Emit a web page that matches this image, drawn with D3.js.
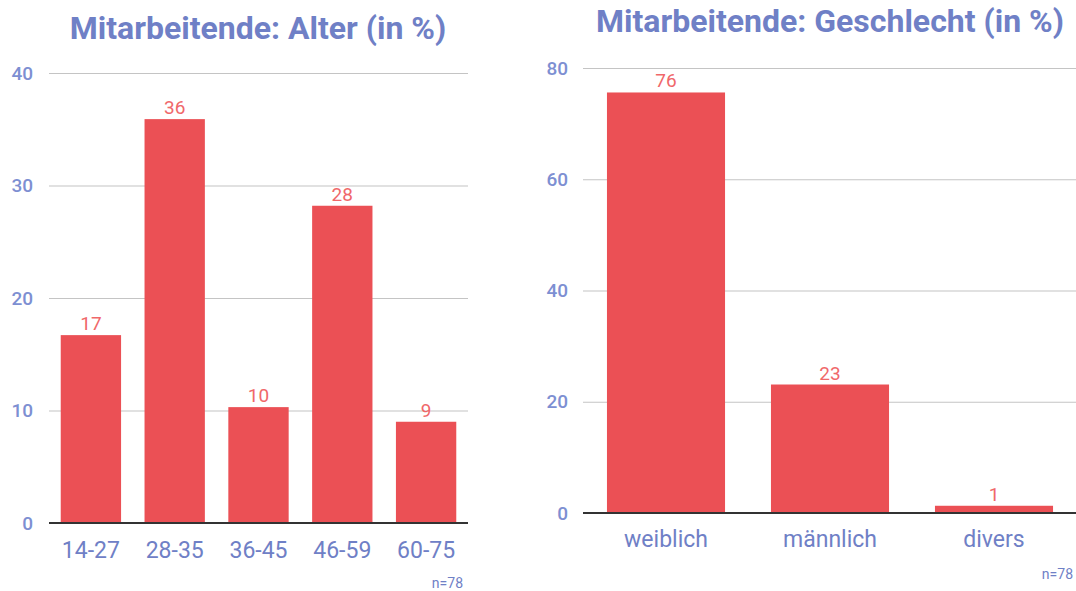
<!DOCTYPE html>
<html>
<head>
<meta charset="utf-8">
<script src="https://cdn.jsdelivr.net/npm/d3@7"></script>
<style>
  body { margin: 0; background: #fff; }
  svg { display: block; font-family: Roboto, 'Noto Sans', sans-serif; }
</style>
</head>
<body>
<svg id="chart" width="1076" height="591"></svg>
<script>
// Alter
let age_cats = ['14-27', '28-35', '36-45', '46-59', '60-75'];
let age_vals = [16.7, 35.9, 10.3, 28.2, 9.0];
let age_ticks = [0, 10, 20, 30, 40];

// Geschlecht
let gender_cats = ['weiblich', 'männlich', 'divers'];
let gender_vals = [75.6, 23.1, 1.3];
let gender_ticks = [0, 20, 40, 60, 80];

const barColor = '#eb5055';
const labelColor = '#f0686a';
const textBlue = '#6f80c6';
const tickBlue = '#7d8fd2';

let svg = d3.select('#chart');

function draw_bars(opts) {
    let g = svg.append('g');

    let x = d3.scaleBand()
        .domain(opts.cats)
        .range(opts.xRange)
        .paddingInner(0.28)
        .paddingOuter(0.14);

    let y = d3.scaleLinear()
        .domain([0, opts.ticks[opts.ticks.length - 1]])
        .range(opts.yRange);

    // title
    g.append('text')
        .attr('x', opts.titleX)
        .attr('y', opts.titleY)
        .attr('text-anchor', 'middle')
        .attr('font-size', '32px')
        .attr('font-weight', 'bold')
        .attr('fill', textBlue)
        .text(opts.title);

    // grid lines
    g.append('g')
        .selectAll('line')
        .data(opts.ticks.filter(d => d !== 0))
        .enter().append('line')
        .attr('x1', opts.gridRange[0])
        .attr('x2', opts.gridRange[1])
        .attr('y1', d => y(d) + 0.5)
        .attr('y2', d => y(d) + 0.5)
        .attr('stroke', '#c4c4c4')
        .attr('stroke-width', 1.2);

    // y tick labels
    g.append('g')
        .selectAll('text')
        .data(opts.ticks)
        .enter().append('text')
        .attr('x', opts.tickX)
        .attr('y', d => y(d))
        .attr('dy', '0.35em')
        .attr('text-anchor', 'end')
        .attr('font-size', '19px')
        .attr('font-weight', 500)
        .attr('fill', tickBlue)
        .text(d => d);

    // bars
    g.append('g')
        .selectAll('rect')
        .data(opts.vals)
        .enter().append('rect')
        .attr('x', (d, i) => x(opts.cats[i]))
        .attr('y', d => y(d))
        .attr('width', x.bandwidth())
        .attr('height', d => y(0) - y(d))
        .attr('fill', barColor);

    // value labels
    g.append('g')
        .selectAll('text')
        .data(opts.vals)
        .enter().append('text')
        .attr('x', (d, i) => x(opts.cats[i]) + x.bandwidth() / 2)
        .attr('y', d => y(d) - 5)
        .attr('text-anchor', 'middle')
        .attr('font-size', '19px')
        .attr('fill', labelColor)
        .text(d => Math.round(d));

    // baseline
    g.append('line')
        .attr('x1', opts.gridRange[0])
        .attr('x2', opts.gridRange[1])
        .attr('y1', y(0))
        .attr('y2', y(0))
        .attr('stroke', '#333')
        .attr('stroke-width', 2);

    // category labels
    let axis_x = d3.axisBottom(x).tickSize(0).tickPadding(0);
    let ax = g.append('g')
        .attr('transform', `translate(0, ${y(0)})`)
        .call(axis_x);
    ax.select('.domain').remove();
    ax.selectAll('text')
        .attr('y', opts.catDy)
        .attr('dy', '0.35em')
        .attr('font-family', 'Roboto, sans-serif')
        .attr('font-size', '23px')
        .attr('fill', textBlue);

    // n
    g.append('text')
        .attr('x', opts.nX)
        .attr('y', opts.nY)
        .attr('text-anchor', 'end')
        .attr('font-size', '14px')
        .attr('fill', textBlue)
        .text('n=78');
}

draw_bars({
    cats: age_cats, vals: age_vals, ticks: age_ticks,
    xRange: [49, 468], yRange: [523, 73], gridRange: [49, 468],
    title: 'Mitarbeitende: Alter (in %)', titleX: 258, titleY: 39,
    tickX: 33, catDy: 27, nX: 463, nY: 588
});

draw_bars({
    cats: gender_cats, vals: gender_vals, ticks: gender_ticks,
    xRange: [584, 1076], yRange: [513, 68], gridRange: [583, 1076],
    title: 'Mitarbeitende: Geschlecht (in %)', titleX: 830, titleY: 32,
    tickX: 568, catDy: 26, nX: 1073, nY: 579
});
</script>
</body>
</html>
